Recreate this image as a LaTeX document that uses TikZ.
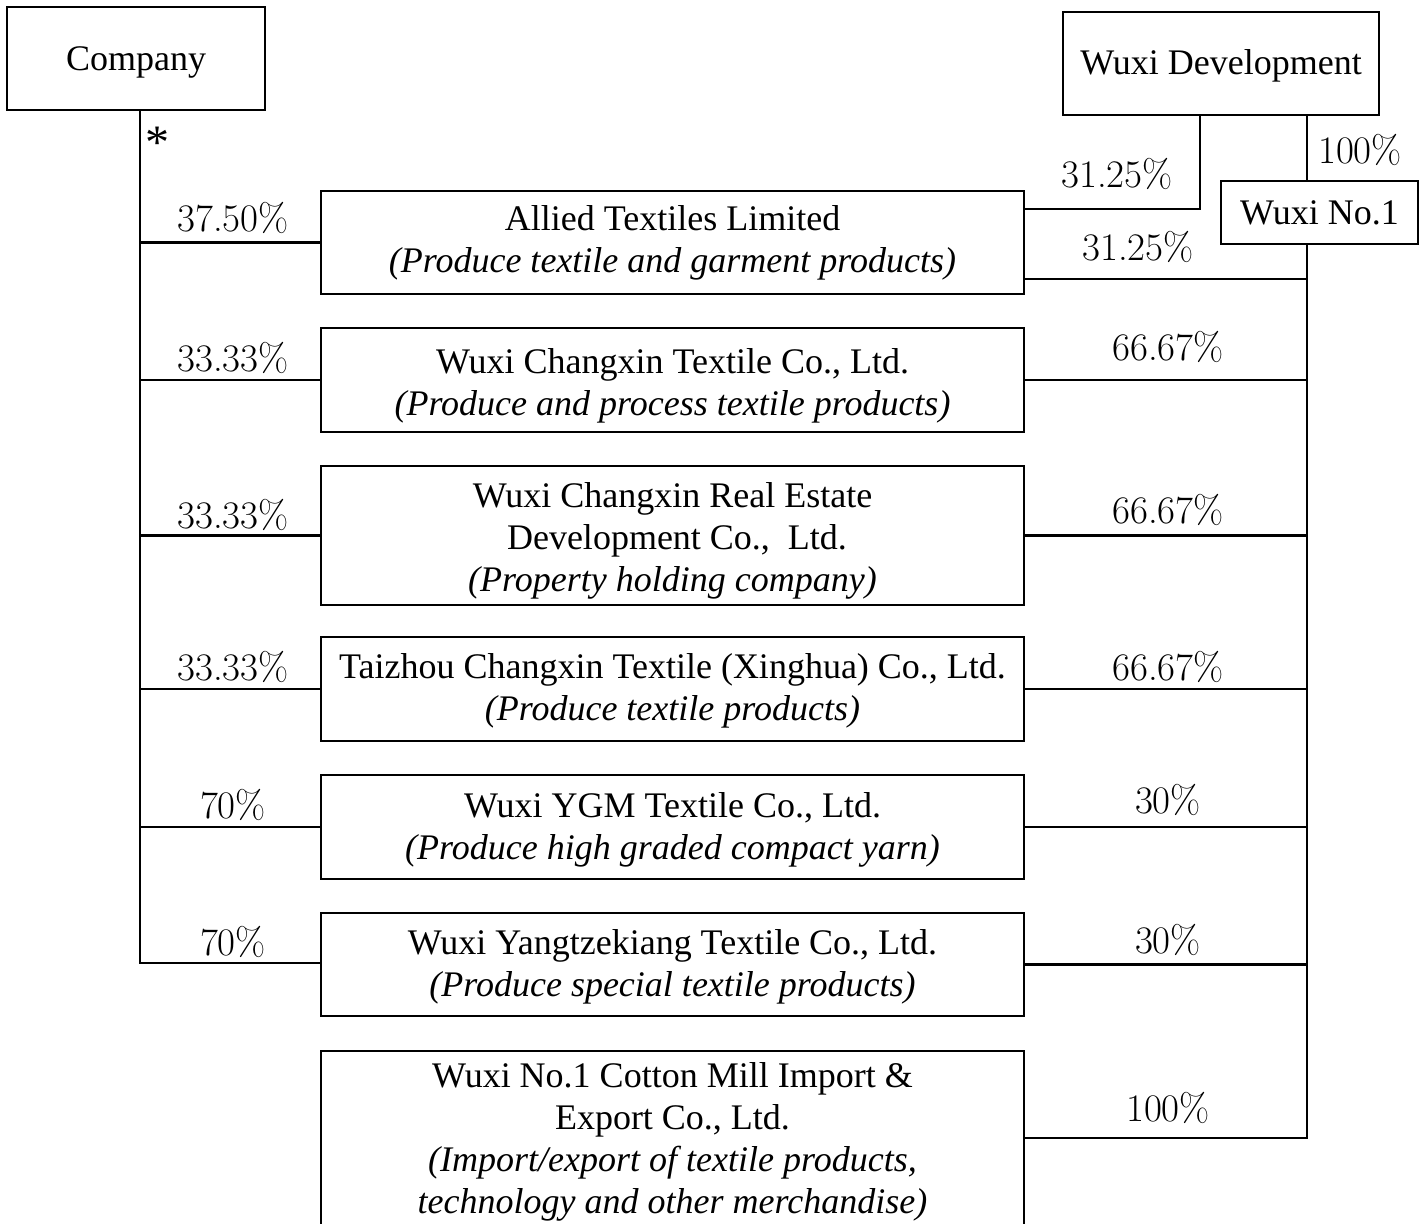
\documentclass[tikz,border=0pt]{standalone}
\usepackage{fontspec}
\newfontfamily\tms{Liberation Serif}
\begin{document}
\begin{tikzpicture}[x=0.5pt,y=-0.5pt,line width=1.2pt,
  box/.style={draw,line width=1.2pt,minimum width=351.5pt,inner sep=0pt},
  btext/.style={align=center,inner sep=0pt,font=\tms\fontsize{18}{21}\selectfont},
  topbox/.style={draw,line width=1.2pt,inner sep=0pt,font=\tms\fontsize{18}{21}\selectfont},
  pct/.style={inner sep=0pt,font=\fontsize{19.5}{22}\selectfont}]
\clip (0,0) rectangle (1424,1223);
% top boxes
\node[topbox,minimum width=129pt,minimum height=51.5pt,text height=14pt,text depth=2pt] (co) at (136,58.5) {Company};
\node[topbox,minimum width=158pt,minimum height=51.5pt,text height=13.5pt,text depth=2.5pt] (wd) at (1221,63.5) {Wuxi Development};
\node[topbox,minimum width=98.5pt,minimum height=31.5pt] (w1) at (1319.5,212.5) {Wuxi No.1};
% subsidiaries (boxes)
\node[box,minimum height=51.5pt] (m1) at (672.5,242.5) {};
\node[box,minimum height=52pt] (m2) at (672.5,380) {};
\node[box,minimum height=69.5pt] (m3) at (672.5,535.5) {};
\node[box,minimum height=52pt] (m4) at (672.5,689) {};
\node[box,minimum height=52pt] (m5) at (672.5,827) {};
\node[box,minimum height=51.5pt] (m6) at (672.5,964.5) {};
\node[box,minimum height=88pt] (m7) at (672.5,1139) {};
% subsidiaries (texts)
\node[btext] (t1) at (672.5,243) {Allied Textiles Limited\\\textit{(Produce textile and garment products)}};
\node[btext] (t2) at (672.5,385.5) {Wuxi Changxin Textile Co., Ltd.\\\textit{(Produce and process textile products)}};
\node[btext] (t3) at (672.5,541) {Wuxi Changxin Real Estate\\ \ Development Co.,\ \ Ltd.\\\textit{(Property holding company)}};
\node[btext] (t4) at (672.5,691) {Taizhou Changxin Textile (Xinghua) Co., Ltd.\\\textit{(Produce textile products)}};
\node[btext] (t5) at (672.5,829.5) {Wuxi YGM Textile Co., Ltd.\\\textit{(Produce high graded compact yarn)}};
\node[btext] (t6) at (672.5,967) {Wuxi Yangtzekiang Textile Co., Ltd.\\\textit{(Produce special textile products)}};
\node[btext] (t7) at (672.5,1142) {Wuxi No.1 Cotton Mill Import \&\\Export Co., Ltd.\\\textit{(Import/export of textile products,}\\\textit{technology and other merchandise)}};
% spine coordinates
\coordinate (ls) at (140,963);
\coordinate (rs) at (1307,1138);
\coordinate (wdl) at (1200,209);
\coordinate (r1) at (1024,279);
% left spine and branches
\draw (co.south -| ls) -- (ls) -- (ls -| m6.west);
\foreach \m in {m1,m2,m3,m4,m5} \draw (ls |- \m.west) -- (\m.west);
\node[inner sep=0pt,font=\tms\fontsize{24}{26}\selectfont,anchor=north] (ast) at (157,126) {*};
% right side
\draw (wd.south -| wdl) -- (wdl) -- (wdl -| m1.east);
\draw (wd.south -| rs) -- (w1.north -| rs);
\draw (w1.south -| rs) -- (rs) -- (rs -| m7.east);
\draw (r1) -- (r1 -| rs);
\foreach \m in {m2,m3,m4,m5} \draw (\m.east) -- (\m.east -| rs);
\draw[line width=1.8pt] (m6.east) -- (m6.east -| rs);
% left labels
\node[pct] (l1) at (233,218) {37.50\%};
\node[pct] (l2) at (233,358) {33.33\%};
\node[pct] (l3) at (233,515) {33.33\%};
\node[pct] (l4) at (233,667) {33.33\%};
\node[pct] (l5) at (233,805) {70\%};
\node[pct] (l6) at (233,942) {70\%};
% right labels
\node[pct] (r0a) at (1117,174) {31.25\%};
\node[pct] (r0b) at (1360,150) {100\%};
\node[pct] (p1) at (1138,247) {31.25\%};
\node[pct] (p2) at (1168,347) {66.67\%};
\node[pct] (p3) at (1168,510) {66.67\%};
\node[pct] (p4) at (1168,667) {66.67\%};
\node[pct] (p5) at (1168,800) {30\%};
\node[pct] (p6) at (1168,940) {30\%};
\node[pct] (p7) at (1168,1108) {100\%};
\end{tikzpicture}
\end{document}
